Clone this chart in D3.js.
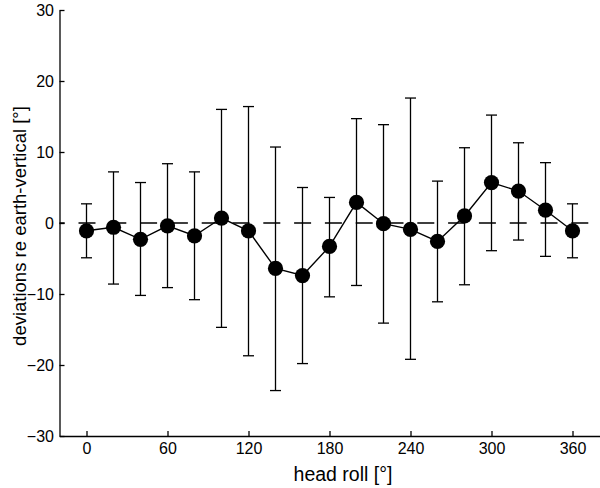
<!DOCTYPE html>
<html>
<head>
<meta charset="utf-8">
<script src="https://cdn.jsdelivr.net/npm/d3@7"></script>
<style>
  body { margin: 0; background: #fff; }
  svg { display: block; font-family: "Liberation Sans", Arial, sans-serif; }
  .axis path, .axis line { stroke: #000; stroke-width: 1.3; }
  .axis text { font-size: 16px; fill: #000; }
</style>
</head>
<body>
<div id="chart"></div>
<script>
// head roll angle (deg)
var roll = [0, 20, 40, 60, 80, 100, 120, 140, 160, 180, 200, 220, 240, 260, 280, 300, 320, 340, 360];
// mean deviation re earth-vertical (deg)
var dev = [-1.1, -0.6, -2.3, -0.4, -1.8, 0.7, -1.1, -6.4, -7.4, -3.3, 2.9, -0.1, -0.9, -2.6, 1.0, 5.7, 4.5, 1.8, -1.1];
// error bar ends
var devHi = [2.7, 7.2, 5.7, 8.35, 7.2, 16.0, 16.4, 10.7, 5.0, 3.6, 14.7, 13.85, 17.6, 5.9, 10.6, 15.2, 11.3, 8.5, 2.7];
var devLo = [-4.9, -8.6, -10.2, -9.1, -10.8, -14.7, -18.7, -23.6, -19.8, -10.4, -8.8, -14.1, -19.2, -11.1, -8.7, -3.9, -2.4, -4.7, -4.9];
var xTicks = [0, 60, 120, 180, 240, 300, 360];
var yTicks = [-30, -20, -10, 0, 10, 20, 30];

var W = 600, H = 488;

var data = roll.map(function(r, i) {
    return {x: r, y: dev[i], hi: devHi[i], lo: devLo[i]};
});

var svg = d3.select("#chart")
    .append("svg")
    .attr("width", W)
    .attr("height", H);

var x = d3.scaleLinear()
    .domain([-20, 400])
    .range([59.5, 626.5]);

var y = d3.scaleLinear()
    .domain([-30, 30])
    .range([436, 10]);

// zero reference line
svg.append("line")
    .attr("x1", x(-20))
    .attr("x2", x(400))
    .attr("y1", y(0))
    .attr("y2", y(0))
    .attr("stroke", "#000")
    .attr("stroke-width", 1.3)
    .attr("stroke-dasharray", "17,13.8")
    .attr("stroke-dashoffset", -19);

// error bars
var bars = svg.selectAll("g.ebar")
    .data(data)
    .enter().append("g")
    .attr("class", "ebar")
    .attr("stroke", "#000")
    .attr("stroke-width", 1.3);

bars.append("line")
    .attr("x1", function(d) { return x(d.x); })
    .attr("x2", function(d) { return x(d.x); })
    .attr("y1", function(d) { return y(d.hi); })
    .attr("y2", function(d) { return y(d.lo); });

bars.append("line")
    .attr("x1", function(d) { return x(d.x) - 5.5; })
    .attr("x2", function(d) { return x(d.x) + 5.5; })
    .attr("y1", function(d) { return y(d.hi); })
    .attr("y2", function(d) { return y(d.hi); });

bars.append("line")
    .attr("x1", function(d) { return x(d.x) - 5.5; })
    .attr("x2", function(d) { return x(d.x) + 5.5; })
    .attr("y1", function(d) { return y(d.lo); })
    .attr("y2", function(d) { return y(d.lo); });

// mean line + markers
var line = d3.line()
    .x(function(d) { return x(d.x); })
    .y(function(d) { return y(d.y); });

svg.append("path")
    .datum(data)
    .attr("d", line)
    .attr("fill", "none")
    .attr("stroke", "#000")
    .attr("stroke-width", 1.4);

svg.selectAll("circle.pt")
    .data(data)
    .enter().append("circle")
    .attr("class", "pt")
    .attr("cx", function(d) { return x(d.x); })
    .attr("cy", function(d) { return y(d.y); })
    .attr("r", 7.6)
    .attr("fill", "#000");

// axes
var xAxis = d3.axisBottom(x)
    .tickValues(xTicks)
    .tickSizeInner(-5)
    .tickSizeOuter(0)
    .tickPadding(7);

var yAxis = d3.axisLeft(y)
    .tickValues(yTicks)
    .tickSizeInner(-5)
    .tickSizeOuter(0)
    .tickPadding(5.5);

svg.append("g")
    .attr("class", "x axis")
    .attr("transform", "translate(0," + y(-30) + ")")
    .call(xAxis);

svg.append("g")
    .attr("class", "y axis")
    .attr("transform", "translate(" + x(-20) + ",0)")
    .call(yAxis);

svg.append("text")
    .attr("x", (x(-20) + x(400)) / 2)
    .attr("y", 481)
    .style("text-anchor", "middle")
    .style("font-size", "19.5px")
    .text("head roll [°]");

svg.append("text")
    .attr("transform", "rotate(-90)")
    .attr("x", -226)
    .attr("y", 26)
    .style("text-anchor", "middle")
    .style("font-size", "18.5px")
    .text("deviations re earth-vertical [°]");
</script>
</body>
</html>
